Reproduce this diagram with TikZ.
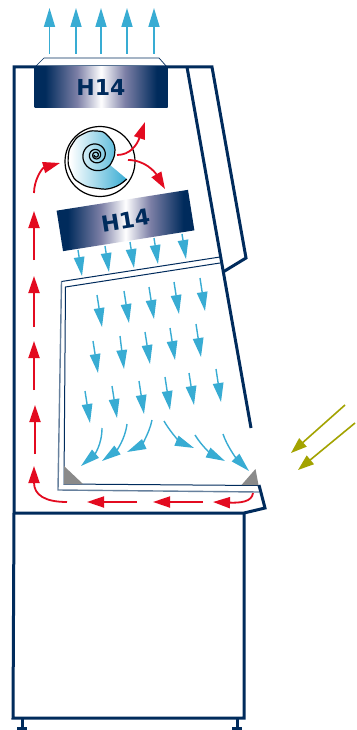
\documentclass[tikz,border=0pt]{standalone}
\usepackage{fontspec}
\setsansfont{DejaVu Sans}
\usetikzlibrary{arrows.meta,calc}
\definecolor{navy}{HTML}{002B5C}
\definecolor{sky}{HTML}{38ACD3}
\definecolor{redd}{HTML}{E30B20}
\definecolor{olive}{HTML}{A3A300}
\definecolor{wedge}{HTML}{8A8A8A}
\definecolor{midnavy}{HTML}{7C7FA6}
\pgfdeclarehorizontalshading{filterbar}{100bp}{color(0bp)=(navy);color(29bp)=(navy);color(41bp)=(midnavy);color(50bp)=(white);color(59bp)=(midnavy);color(71bp)=(navy);color(100bp)=(navy)}
\pgfdeclarehorizontalshading{fanblue}{100bp}{color(0bp)=(white);color(27bp)=(white);color(75bp)=(sky);color(100bp)=(sky)}
\tikzset{
 x=1pt,y=-1pt,
 wall/.style={draw=navy,line width=3pt,line join=miter},
 thin wall/.style={draw=navy,line width=1pt},
 blue arrow/.style={draw=sky,line width=1.7pt,-{Triangle[length=19pt,width=11pt]}},
 small blue/.style={draw=sky,line width=1.4pt,-{Triangle[length=19pt,width=10.5pt]}},
 red arrow/.style={draw=redd,line width=1.8pt,-{Triangle[length=17pt,width=11pt]}},
 olive arrow/.style={draw=olive,line width=1.6pt,-{Triangle[length=16pt,width=11pt]}},
 fan line/.style={draw=black,line width=1.2pt},
 filter/.style={shading=filterbar,minimum width=133pt,minimum height=41pt,inner sep=0pt,text=navy,font=\sffamily\bfseries\fontsize{22pt}{24pt}\selectfont},
}
\begin{document}
\begin{tikzpicture}
\useasboundingbox (0,0) rectangle (356,730);
\fill[white] (0,0) rectangle (356,730);
\coordinate (cTL) at (14,67); \coordinate (cTR) at (212,67);
\coordinate (cVis) at (246,258); \coordinate (cVisB) at (223,272);
\coordinate (sashT) at (187,67); \coordinate (sashB) at (251,428);
\coordinate (cBL) at (14,513); \coordinate (cBR) at (244,513);
\coordinate (lip) at (265,508); \coordinate (lipT) at (259,485);
\coordinate (bBL) at (13,718); \coordinate (bBR) at (244,718);
% hood
\draw[navy,line width=.7pt] (35,67)--(44,58)--(159,58)--(167,67);
% cabinet
\draw[wall] (cBL)--(cTL)--(cTR)--(cVis)--(cVisB);
\draw[wall] (sashT)--(sashB);
\draw[wall] (cBL)--(cBR)--(lip)--(lipT);
\draw[wall] (cBL)--(bBL)--(bBR)--(cBR);
% feet
\draw[wall] (22,718)--(22,727) (17,728)--(27,728);
\draw[wall] (237,718)--(237,727) (232,728)--(242,728);
% work chamber double wall
\draw[navy!60,line width=1.4pt] (61.5,281.5)--(58,490)--(259,492);
\draw[thin wall] (220,257)--(61.5,281.5);
\draw[thin wall] (220,263)--(65.5,287)--(64,484)--(258,485.5);
% corner wedges
\fill[wedge] (64,466)--(83,484)--(64,484)--cycle;
\fill[wedge] (241.5,485)--(255.5,469)--(258.5,485)--cycle;
% filters
\node[filter] (f1) at (101,87.5) {H14};
\node[filter,rotate=9] (f2) at (125.5,220.5) {H14};
% fan
\coordinate (fan) at (100,161.5);
\draw[fan line] (fan) circle (35);
\path[shading=fanblue] plot[smooth,tension=.9] coordinates {(126.7,179) (113.3,187.5) (96.7,188.3) (80,183) (71,172) (68.3,156.7) (73,143) (83,134) (96.7,131) (108,136) (115,150) (110,165)} -- cycle;
\draw[fan line] plot[smooth,tension=.9] coordinates {(126.7,179) (113.3,187.5) (96.7,188.3) (80,183) (71,172) (68.3,156.7) (73,143) (83,134) (96.7,131) (108,136) (115,150) (110,165)};
\draw[fan line] plot[smooth,domain=35.5:1260,samples=160] ({96+17.2*exp(-.11*(\x-35.5)/57.3)*cos(\x)},{155+17.2*exp(-.11*(\x-35.5)/57.3)*sin(\x)});
% top arrows
\foreach \n/\x in {a/49.5,b/76,c/101,d/127,e/154}{
 \coordinate (t\n) at (\x,54); \coordinate (h\n) at (\x,8);
 \draw[blue arrow] (t\n)--(h\n);}
% red arrows
\draw[red arrow] (34,193) .. controls (34,180) and (42,168) .. (60,163);
\draw[red arrow] (34,260)--(34,211);
\draw[red arrow] (34,327)--(34,276);
\draw[red arrow] (34,390)--(34,341);
\draw[red arrow] (35,454)--(35,405);
\draw[red arrow] (67,502) .. controls (45,502) and (34,495) .. (34,466);
\draw[red arrow] (137,502)--(87,502);
\draw[red arrow] (203,502)--(153,502);
\draw[red arrow] (253,493) .. controls (252,502) and (240,503) .. (213,502);
\draw[red arrow] (117,155) .. controls (130,155) and (137,145) .. (145,122);
\draw[red arrow] (128,160) .. controls (145,160) and (155,172) .. (165,189);
% straight blue arrows
\foreach \n/\a/\b/\c/\d in {
 p1/78/250/82/276, p2/105/246/109/272, p3/130/242/134/268, p4/154/238/158/264, p5/182/234/186/259,
 q1/97/295/102/327, q2/124/291/129/323, q3/149/287/154/319, q4/174/282/179/314, q5/200/278/205/311,
 r1/93/341/98/373, r2/120/336/124/369, r3/145/332/150/364, r4/170/328/175/360, r5/196/324/201/357,
 s1/85/391/90/423, s2/112/386/117/418, s3/139/381/144/414, s4/165/377/170/410, s5/189/373/194/405, s6/216/369/221/402}{
 \coordinate (\n s) at (\a,\b); \coordinate (\n e) at (\c,\d);
 \draw[small blue] (\n s)--(\n e);}
% curved lower blue
\draw[small blue] (102,428) .. controls (102,445) and (94,455) .. (81,466);
\draw[small blue] (127,424) .. controls (125,440) and (116,451) .. (102,461);
\draw[small blue] (152,420) .. controls (149,435) and (140,446) .. (127,452);
\draw[small blue] (164,421) .. controls (172,435) and (182,443) .. (194,448);
\draw[small blue] (195,435) .. controls (203,448) and (213,455) .. (225,461);
\draw[small blue] (223,434) .. controls (227,446) and (236,458) .. (249,471);
% olive
\draw[olive arrow] (345,405)--(291,453);
\draw[olive arrow] (355,423)--(298,470);
\end{tikzpicture}
\end{document}
